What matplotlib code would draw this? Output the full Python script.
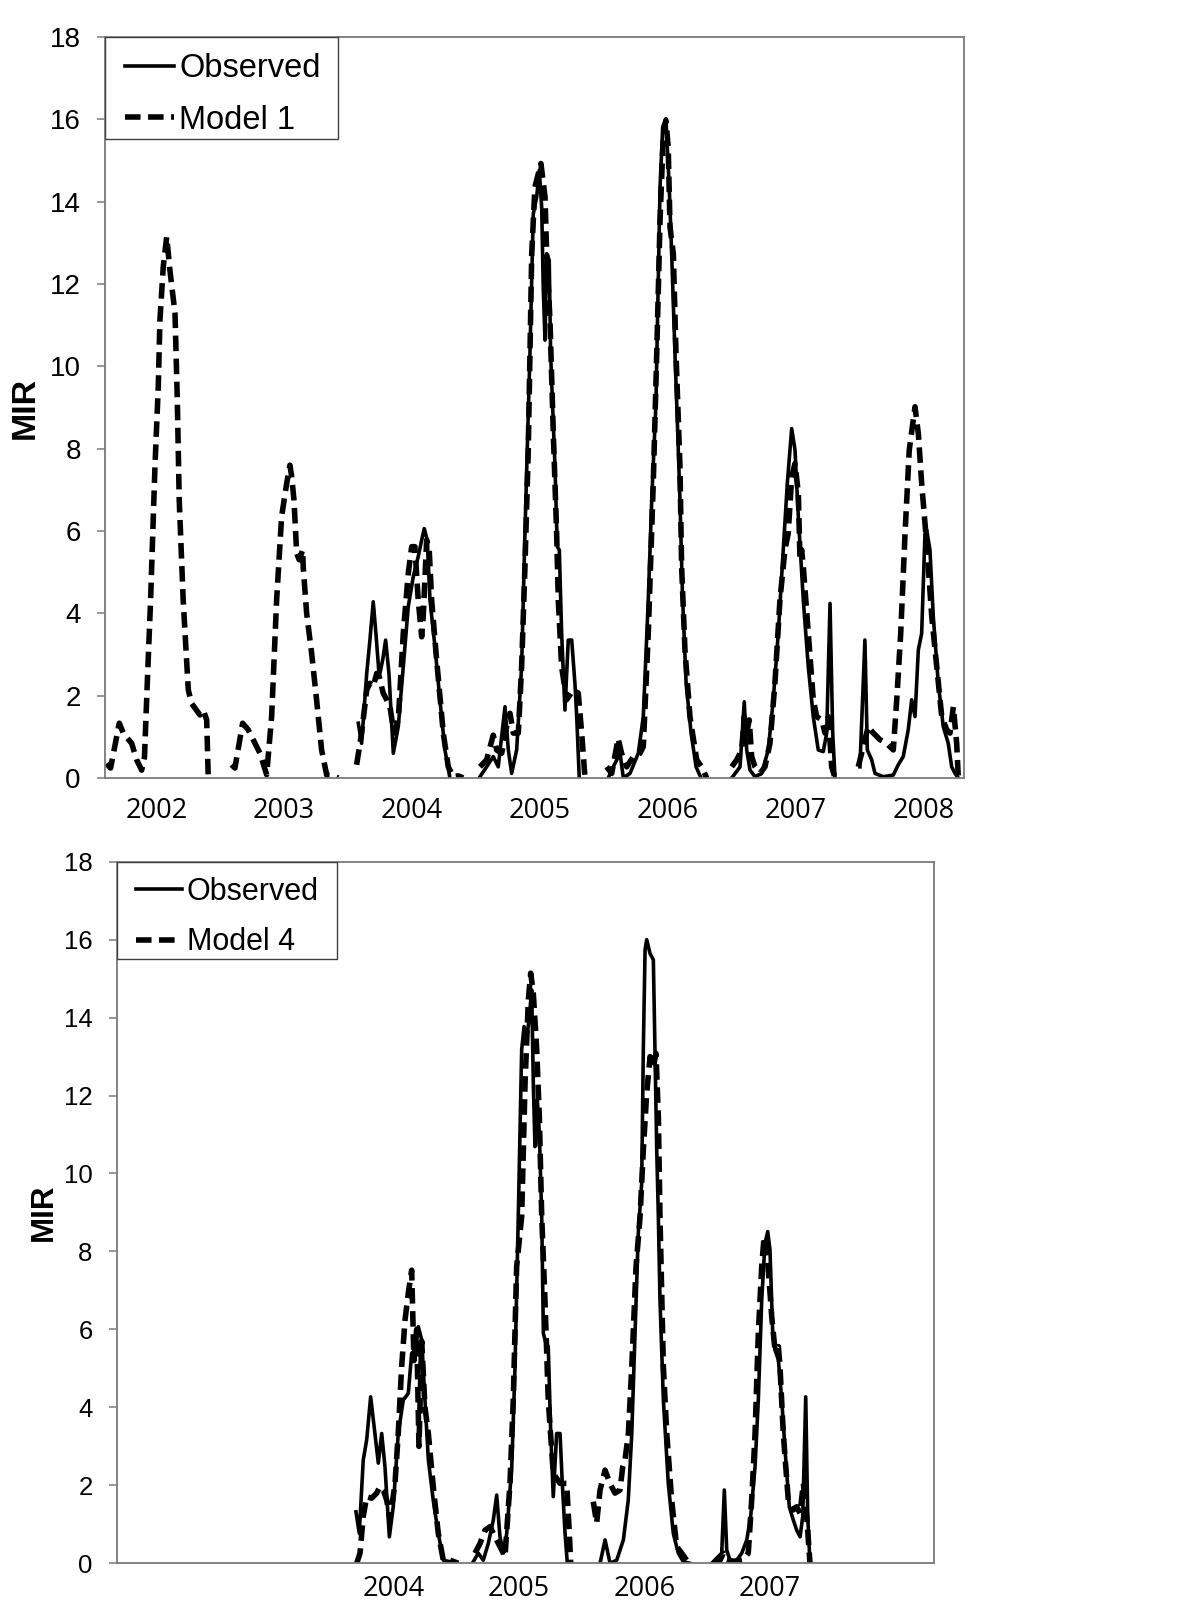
import numpy as np
import matplotlib
matplotlib.use("Agg")
import matplotlib.pyplot as plt
from matplotlib.patches import Rectangle
from matplotlib.lines import Line2D

nan = np.nan

#%% DATA (fractional years vs MIR, nan = gap between seasons)
# top panel: Observed vs Model 1
top_obs_yr = [2003.580, 2003.606, 2003.646, 2003.671, 2003.697, 2003.718, 2003.744, 2003.771, 2003.794, 2003.820,
              2003.854, 2003.893, 2003.932, 2003.971, 2004.010, 2004.049, 2004.076, 2004.096, 2004.120, 2004.141,
              2004.180, 2004.219, 2004.258, 2004.297, nan,
              2004.532, 2004.584, 2004.636, 2004.675, 2004.728, 2004.754, 2004.780, 2004.819, 2004.858, 2004.884,
              2004.923, 2004.949, 2004.976, 2004.996, 2005.015, 2005.027, 2005.041, 2005.054, 2005.074, 2005.085,
              2005.119, 2005.137, 2005.153, 2005.171, 2005.197, 2005.223, 2005.250, 2005.275, 2005.289, 2005.309, nan,
              2005.536, 2005.575, 2005.628, 2005.654, 2005.706, 2005.771, 2005.810, 2005.849, 2005.876, 2005.909,
              2005.941, 2005.962, 2005.987, 2006.013, 2006.032, 2006.058, 2006.076, 2006.097, 2006.116, 2006.145,
              2006.184, 2006.223, 2006.262, nan,
              2006.502, 2006.567, 2006.600, 2006.619, 2006.645, 2006.684, 2006.736, 2006.788, 2006.827, 2006.866,
              2006.905, 2006.937, 2006.971, 2006.997, 2007.023, 2007.062, 2007.101, 2007.140, 2007.179, 2007.218,
              2007.245, 2007.271, 2007.292, 2007.310, nan,
              2007.505, 2007.544, 2007.563, 2007.597, 2007.623, 2007.688, 2007.766, 2007.805, 2007.844, 2007.883,
              2007.910, 2007.936, 2007.962, 2007.988, 2008.014, 2008.027, 2008.053, 2008.079, 2008.118, 2008.157,
              2008.196, 2008.223, 2008.249, 2008.275]
top_obs_val = [1.33, 0.84, 2.54, 3.35, 4.28, 3.51, 2.46, 2.87, 3.35, 2.54,
               0.60, 1.25, 2.70, 4.16, 4.89, 5.38, 5.78, 6.06, 5.78, 4.32,
               3.19, 1.89, 0.68, 0.00, nan,
               0.03, 0.27, 0.52, 0.27, 1.73, 0.68, 0.11, 0.68, 2.70, 5.94,
               10.30, 13.70, 14.12, 14.77, 13.87, 11.93, 10.64, 12.74, 12.58, 10.30,
               7.56, 5.62, 5.54, 3.51, 1.65, 3.35, 3.35, 2.30, 1.49, 0.00, nan,
               0.00, 0.27, 0.60, 0.00, 0.11, 0.60, 1.49, 4.32, 6.75, 9.10,
               14.36, 15.82, 16.02, 14.36, 12.74, 10.30, 8.70, 6.75, 4.50, 2.30,
               1.09, 0.27, 0.00, nan,
               0.00, 0.27, 1.85, 0.68, 0.19, 0.03, 0.11, 0.68, 1.90, 3.51,
               5.54, 7.16, 8.49, 7.97, 6.35, 4.32, 2.70, 1.49, 0.68, 0.64,
               1.09, 4.24, 1.09, 0.00, nan,
               0.27, 3.35, 0.68, 0.44, 0.11, 0.03, 0.07, 0.32, 0.52, 1.17,
               1.90, 1.49, 3.11, 3.51, 5.94, 6.03, 5.54, 3.92, 2.30, 1.25,
               0.84, 0.27, 0.11, 0.00]

top_m1_yr = [2001.611, 2001.642, 2001.710, 2001.741, 2001.807, 2001.846, 2001.885, 2001.907, 2001.929, 2001.955,
             2001.989, 2002.015, 2002.028, 2002.054, 2002.081, 2002.106, 2002.146, 2002.164, 2002.179, 2002.210,
             2002.250, 2002.276, 2002.341, 2002.367, 2002.394, 2002.406, nan,
             2002.589, 2002.615, 2002.675, 2002.719, 2002.758, 2002.811, 2002.863, 2002.902, 2002.941, 2002.980,
             2003.020, 2003.045, 2003.059, 2003.077, 2003.098, 2003.118, 2003.145, 2003.149, 2003.176, 2003.215,
             2003.254, 2003.293, 2003.333, 2003.372, 2003.423, nan,
             2003.567, 2003.606, 2003.646, 2003.671, 2003.697, 2003.724, 2003.744, 2003.775, 2003.802, 2003.828,
             2003.859, 2003.893, 2003.932, 2003.971, 2003.998, 2004.023, 2004.049, 2004.076, 2004.088, 2004.115,
             2004.135, 2004.154, 2004.193, 2004.245, 2004.284, 2004.323, 2004.362, 2004.401, nan,
             2004.532, 2004.584, 2004.636, 2004.663, 2004.702, 2004.741, 2004.767, 2004.793, 2004.832, 2004.858,
             2004.884, 2004.910, 2004.937, 2004.962, 2005.009, 2005.041, 2005.054, 2005.080, 2005.106, 2005.132,
             2005.145, 2005.171, 2005.210, 2005.262, 2005.301, 2005.328, 2005.354, nan,
             2005.523, 2005.563, 2005.613, 2005.640, 2005.680, 2005.732, 2005.784, 2005.810, 2005.849, 2005.888,
             2005.915, 2005.941, 2005.966, 2005.987, 2006.005, 2006.019, 2006.045, 2006.066, 2006.084, 2006.097,
             2006.110, 2006.136, 2006.175, 2006.228, 2006.267, 2006.306, nan,
             2006.502, 2006.541, 2006.580, 2006.600, 2006.619, 2006.639, 2006.658, 2006.684, 2006.723, 2006.762,
             2006.801, 2006.840, 2006.879, 2006.918, 2006.944, 2006.971, 2006.997, 2007.023, 2007.036, 2007.049,
             2007.062, 2007.101, 2007.140, 2007.167, 2007.206, 2007.232, 2007.258, 2007.284, 2007.310, nan,
             2007.492, 2007.531, 2007.570, 2007.610, 2007.662, 2007.714, 2007.766, 2007.793, 2007.824, 2007.858,
             2007.891, 2007.936, 2007.962, 2007.988, 2008.014, 2008.040, 2008.067, 2008.106, 2008.145, 2008.184,
             2008.210, 2008.236, 2008.262, 2008.275]
top_m1_val = [0.35, 0.24, 1.33, 1.09, 0.84, 0.44, 0.19, 0.50, 2.30, 4.32,
              7.56, 9.50, 11.12, 12.42, 13.15, 12.34, 11.29, 9.18, 6.75, 4.32,
              2.14, 1.81, 1.53, 1.65, 1.41, 0.00, nan,
              0.32, 0.24, 1.33, 1.17, 0.93, 0.60, 0.08, 1.49, 4.32, 6.35,
              7.16, 7.60, 7.32, 6.75, 5.46, 5.30, 5.54, 5.13, 4.00, 3.03,
              1.89, 0.68, 0.07, 0.07, 0.00, nan,
              0.32, 1.09, 2.14, 2.30, 2.22, 2.54, 2.46, 2.06, 1.90, 1.73,
              1.09, 1.41, 3.51, 4.97, 5.62, 5.62, 4.32, 3.43, 3.92, 5.78,
              5.54, 4.32, 2.87, 1.09, 0.27, 0.03, 0.05, 0.00, nan,
              0.27, 0.44, 1.04, 0.68, 0.60, 1.25, 1.57, 1.09, 1.09, 2.70,
              5.13, 7.97, 12.74, 14.36, 14.93, 14.12, 12.75, 11.12, 8.37, 5.94,
              4.32, 2.70, 1.90, 2.14, 2.06, 1.09, 0.00, nan,
              0.27, 0.11, 0.96, 0.60, 0.27, 0.52, 0.60, 0.76, 3.51, 7.16,
              10.30, 13.55, 15.58, 15.98, 15.33, 13.39, 12.74, 10.30, 8.70, 7.56,
              5.13, 3.11, 1.49, 0.44, 0.27, 0.00, nan,
              0.27, 0.44, 0.68, 1.49, 1.09, 1.41, 0.52, 0.27, 0.11, 0.27,
              0.84, 2.30, 4.32, 5.54, 5.94, 7.32, 7.64, 6.92, 5.30, 5.54,
              5.13, 3.51, 1.90, 1.49, 1.41, 1.09, 1.49, 0.27, 0.00, nan,
              0.27, 0.76, 1.25, 1.09, 0.93, 0.84, 0.68, 1.90, 3.51, 5.94,
              7.97, 9.02, 8.37, 7.16, 6.19, 5.13, 3.92, 2.70, 1.49, 1.17,
              1.09, 1.73, 0.84, 0.00]

# bottom panel: Observed vs Model 4
bot_obs_yr = [2003.701, 2003.727, 2003.759, 2003.786, 2003.818, 2003.852, 2003.879, 2003.906, 2003.932, 2003.967,
              2003.998, 2004.038, 2004.078, 2004.118, 2004.145, 2004.171, 2004.198, 2004.225, 2004.251, 2004.278,
              2004.317, 2004.357, 2004.397, 2004.451, 2004.504, nan,
              2004.636, 2004.676, 2004.716, 2004.756, 2004.796, 2004.823, 2004.849, 2004.876, 2004.903, 2004.943,
              2004.969, 2004.995, 2005.022, 2005.041, 2005.062, 2005.083, 2005.102, 2005.115, 2005.128, 2005.147,
              2005.163, 2005.182, 2005.195, 2005.216, 2005.234, 2005.254, 2005.274, 2005.301, 2005.328, 2005.346,
              2005.368, 2005.386, nan,
              2005.647, 2005.687, 2005.727, 2005.780, 2005.833, 2005.872, 2005.900, 2005.926, 2005.952, 2005.979,
              2005.992, 2006.006, 2006.019, 2006.045, 2006.072, 2006.085, 2006.099, 2006.112, 2006.125, 2006.152,
              2006.191, 2006.231, 2006.271, 2006.311, 2006.364, nan,
              2006.537, 2006.577, 2006.617, 2006.638, 2006.657, 2006.683, 2006.737, 2006.777, 2006.817, 2006.848,
              2006.883, 2006.909, 2006.936, 2006.962, 2006.984, 2007.002, 2007.024, 2007.042, 2007.069, 2007.096,
              2007.122, 2007.156, 2007.188, 2007.215, 2007.242, 2007.263, 2007.287, 2007.303, 2007.321]
bot_obs_val = [1.32, 0.77, 2.65, 3.16, 4.27, 3.33, 2.57, 3.33, 2.48, 0.68,
               1.45, 3.33, 4.19, 4.36, 5.39, 5.47, 6.07, 5.73, 4.19, 2.65,
               1.62, 0.77, 0.08, 0.04, 0.00, nan,
               0.04, 0.26, 0.08, 0.51, 1.11, 1.75, 0.68, 0.26, 0.77, 2.48,
               5.04, 8.89, 13.17, 13.77, 13.42, 14.02, 14.71, 12.31, 10.69, 11.89,
               11.03, 8.89, 5.90, 5.64, 5.56, 3.33, 1.71, 3.33, 3.33, 2.05,
               0.77, 0.00, nan,
               0.00, 0.60, 0.00, 0.08, 0.60, 1.62, 3.33, 5.90, 8.47, 9.75,
               13.17, 15.74, 16.00, 15.65, 15.48, 13.17, 10.60, 8.89, 6.75, 4.19,
               2.05, 0.77, 0.26, 0.04, 0.00, nan,
               0.00, 0.13, 0.26, 1.88, 0.34, 0.08, 0.08, 0.26, 0.60, 1.20,
               2.48, 4.19, 6.75, 8.21, 8.51, 8.04, 5.90, 5.47, 5.22, 4.19,
               2.91, 1.45, 1.11, 0.85, 0.68, 1.20, 4.27, 1.20, 0.00]

bot_m4_yr = [2003.707, 2003.733, 2003.759, 2003.786, 2003.826, 2003.866, 2003.892, 2003.919, 2003.946, 2003.972,
             2004.012, 2004.038, 2004.065, 2004.092, 2004.118, 2004.145, 2004.163, 2004.185, 2004.203, 2004.225,
             2004.251, 2004.278, 2004.317, 2004.357, 2004.397, 2004.451, 2004.517, nan,
             2004.650, 2004.690, 2004.730, 2004.770, 2004.809, 2004.849, 2004.889, 2004.929, 2004.955, 2004.982,
             2005.022, 2005.049, 2005.075, 2005.094, 2005.115, 2005.142, 2005.163, 2005.182, 2005.208, 2005.234,
             2005.274, 2005.328, 2005.381, 2005.402, 2005.413, nan,
             2005.593, 2005.620, 2005.647, 2005.687, 2005.726, 2005.766, 2005.806, 2005.828, 2005.846, 2005.873,
             2005.900, 2005.934, 2005.966, 2005.992, 2006.019, 2006.046, 2006.072, 2006.093, 2006.112, 2006.125,
             2006.152, 2006.179, 2006.218, 2006.258, 2006.298, 2006.338, 2006.391, nan,
             2006.550, 2006.604, 2006.630, 2006.657, 2006.710, 2006.789, 2006.829, 2006.856, 2006.883, 2006.909,
             2006.936, 2006.955, 2006.976, 2006.997, 2007.016, 2007.042, 2007.069, 2007.082, 2007.108, 2007.148,
             2007.188, 2007.215, 2007.242, 2007.268, 2007.295, 2007.321]
bot_m4_val = [0.00, 0.26, 1.20, 1.71, 1.67, 1.80, 1.97, 1.88, 1.62, 1.11,
              2.05, 3.33, 5.04, 6.24, 6.93, 7.52, 5.20, 6.00, 3.00, 5.70,
              4.00, 3.33, 1.97, 0.77, 0.08, 0.08, 0.00, nan,
              0.26, 0.51, 0.85, 0.94, 0.68, 0.43, 0.17, 2.05, 4.19, 7.61,
              8.89, 12.31, 14.45, 15.14, 14.62, 13.17, 11.46, 8.89, 6.75, 4.19,
              2.31, 2.05, 2.05, 0.77, 0.00, nan,
              1.58, 1.03, 1.88, 2.39, 2.05, 1.80, 1.88, 2.48, 2.65, 3.33,
              5.04, 7.61, 8.89, 10.60, 12.06, 13.00, 12.74, 13.08, 11.46, 8.89,
              5.04, 3.33, 1.62, 0.43, 0.26, 0.08, 0.00, nan,
              0.00, 0.08, 0.26, 0.08, 0.04, 0.08, 0.26, 1.62, 3.33, 5.90,
              7.61, 8.38, 8.04, 7.18, 6.33, 5.47, 5.56, 5.04, 3.33, 1.62,
              1.37, 1.45, 1.28, 2.05, 1.20, 0.00]

top_years = [2002, 2003, 2004, 2005, 2006, 2007, 2008]
bot_years = [2004, 2005, 2006, 2007]
mir_ticks = list(range(0, 19, 2))

#%% STYLE
SANS = ['Liberation Sans', 'DejaVu Sans']
XFONT = ['Open Sans', 'DejaVu Sans']
SPINE = '#7a7a7a'
dash_kw = dict(color='black', lw=4.0, linestyle=(0, (2.8, 1.35)), dash_capstyle='butt')
solid_kw = dict(color='black', lw=2.6, solid_joinstyle='round')


def style_axes(ax, xlim, years, ysize, xsize, ypad, xpad):
    ax.set_xlim(*xlim)
    ax.set_ylim(0, 18)
    ax.set_yticks(mir_ticks)
    ax.set_yticklabels([str(t) for t in mir_ticks], family=SANS, fontsize=ysize)
    ax.set_xticks(years)
    ax.set_xticklabels([str(y) for y in years], family=XFONT, fontsize=xsize)
    ax.tick_params(axis='y', direction='out', length=5.8, width=1.1, color=SPINE, pad=ypad)
    ax.tick_params(axis='x', length=0, pad=xpad)
    for s in ax.spines.values():
        s.set_color(SPINE)
        s.set_linewidth(1.3)


def add_legend(ax, model_name, fsize, box_w, box_h, anchor, spacing):
    ax.add_patch(Rectangle((0, 1 - box_h), box_w, box_h, transform=ax.transAxes,
                           facecolor='white', edgecolor='#404040', lw=1.0, zorder=5))
    handles = [Line2D([], [], **solid_kw), Line2D([], [], **dash_kw)]
    leg = ax.legend(handles, ['Observed', model_name], loc='upper left', bbox_to_anchor=anchor,
                    frameon=False, borderpad=0, borderaxespad=0, handlelength=1.5,
                    handletextpad=0.17, labelspacing=spacing, prop={'family': SANS, 'size': fsize})
    leg.set_zorder(6)


#%% FIGURE
fig = plt.figure(figsize=(12, 16.03), dpi=100)

ax1 = fig.add_axes([0.0879, 0.5147, 0.7154, 0.4621])
ax1.plot(top_obs_yr, top_obs_val, **solid_kw)
ax1.plot(top_m1_yr, top_m1_val, **dash_kw)
style_axes(ax1, (2001.602, 2008.319), top_years, 20, 19.5, 12, 13.5)
add_legend(ax1, 'Model 1', 23.5, 0.2714, 0.1377, (0.0227, 0.978), 0.62)
fig.text(25 / 1200, 1 - 407.5 / 1603, 'MIR', rotation=90, ha='center', va='center',
         family=SANS, fontsize=24.5, fontweight='bold')

ax2 = fig.add_axes([0.09725, 0.02477, 0.6811, 0.4377])
ax2.plot(bot_obs_yr, bot_obs_val, **solid_kw)
ax2.plot(bot_m4_yr, bot_m4_val, **dash_kw)
style_axes(ax2, (2001.793, 2008.310), bot_years, 18.5, 19.5, 11.5, 8.5)
add_legend(ax2, 'Model 4', 22, 0.2695, 0.1387, (0.0235, 0.978), 0.66)
fig.text(43.5 / 1200, 1 - 1212.5 / 1603, 'MIR', rotation=90, ha='center', va='center',
         family=SANS, fontsize=22.5, fontweight='bold')

plt.savefig('out.png', dpi=100, facecolor='white')
plt.close()
